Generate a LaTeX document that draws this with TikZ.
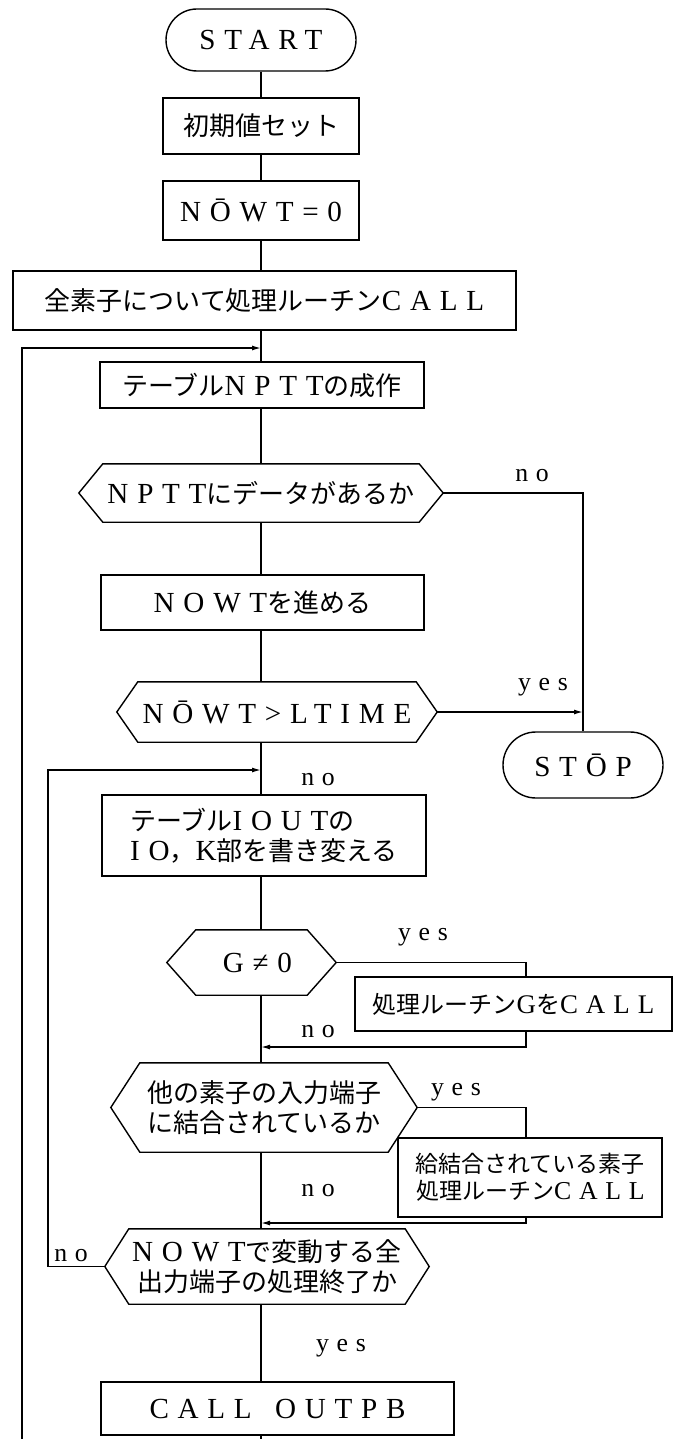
\documentclass[tikz,border=0pt]{standalone}
\usepackage{fontspec}
\setmainfont{Liberation Serif}[LetterSpace=30, Scale=1.12]
\newfontfamily\cjk{Noto Sans CJK JP}
\usetikzlibrary{arrows.meta}
\newcommand\J[1]{{\cjk #1}}
\newcommand\hexdraw[2]{\draw[ln] ([xshift=#2]#1.north west) -- ([xshift=-#2]#1.north east) -- (#1.east) -- ([xshift=-#2]#1.south east) -- ([xshift=#2]#1.south west) -- (#1.west) -- cycle;}
\begin{document}
\begin{tikzpicture}[x=1pt,y=-1pt,
  ln/.style={line width=1.4pt},
  arr/.style={ln,-{Latex[length=9pt,width=5pt]}},
  every node/.style={font=\fontsize{26}{30}\selectfont, inner sep=0pt},
  box/.style={draw, ln, rectangle},
  stad/.style={draw, ln, rectangle},
  hexa/.style={rectangle},
  lab/.style={font=\fontsize{23}{25}\selectfont}]
\useasboundingbox (0,0) rectangle (674,1439);
\coordinate (m) at (261,0);
\coordinate (rx) at (526,0);
% nodes
\node[stad, rounded corners=31pt, minimum width=190pt, minimum height=62pt] (start) at (261,40) {START};
\node[box, minimum width=196pt, minimum height=56pt] (init) at (261,126) {\J{初期値セット}};
\node[box, minimum width=196pt, minimum height=59pt] (nowt0) at (261,210.5) {NŌWT=0};
\node[box, minimum width=503pt, minimum height=59pt] (allcall) at (264.5,300.5) {\J{全素子について処理ルーチン}CALL};
\node[box, minimum width=324pt, minimum height=46pt] (nptt) at (262,385) {\J{テーブル}NPTT\J{の成作}};
\node[hexa, minimum width=364pt, minimum height=58pt] (dec1) at (261,493) {NPTT\J{にデータがあるか}};
\node[box, minimum width=323pt, minimum height=55pt] (adv) at (262.5,602.5) {NOWT\J{を進める}};
\node[hexa, minimum width=320pt, minimum height=60pt] (dec2) at (277,712) {NŌWT>LTIME};
\node[stad, rounded corners=33pt, minimum width=160pt, minimum height=66pt] (stop) at (583,765) {STŌP};
\node[box, align=left, minimum width=324pt, minimum height=81pt] (iout) at (264,835.5) {\J{テーブル}IOUT\J{の}\\IO\J{，}K\J{部を書き変える}};
\node[hexa, minimum width=169pt, minimum height=65pt] (dec3) at (251.5,962.5) {\hspace*{12pt}G≠0};
\node[box, font=\fontsize{24}{28}\selectfont, minimum width=317pt, minimum height=54pt] (gcall) at (513.5,1004) {\J{処理ルーチン}G\J{を}CALL};
\node[hexa, align=center, minimum width=306pt, minimum height=89pt] (dec4) at (264,1107.5) {\J{他の素子の入力端子}\\\J{に結合されているか}};
\node[box, align=right, font=\fontsize{23}{27}\selectfont, minimum width=264pt, minimum height=79pt] (conn) at (530,1177.5) {\J{給結合されている素子}\\\J{処理ルーチン}CALL};
\node[hexa, align=center, minimum width=324pt, minimum height=75pt] (dec5) at (267,1266.5) {NOWT\J{で変動する全}\\\J{出力端子の処理終了か}};
\node[box, minimum width=353pt, minimum height=53pt] (outpb) at (277.5,1408.5) {CALL\hspace{0.8em}OUTPB};
% hexagon outlines
\hexdraw{dec1}{24pt}
\hexdraw{dec2}{21pt}
\hexdraw{dec3}{29pt}
\hexdraw{dec4}{29pt}
\hexdraw{dec5}{24pt}
% labels
\node[lab] (no1) at (532,476) {no};
\node[lab] (yes1) at (543,687) {yes};
\node[lab] (no2) at (318,780) {no};
\node[lab] (yes2) at (423,937) {yes};
\node[lab] (no3) at (318,1032) {no};
\node[lab] (yes3) at (456,1092) {yes};
\node[lab] (no4) at (318,1191) {no};
\node[lab] (no5) at (71,1256) {no};
\node[lab] (yes4) at (341,1348) {yes};
% junction coordinates
\coordinate (j1) at (261,348);
\coordinate (j2) at (261,770);
\coordinate (j3) at (261,1047);
\coordinate (j4) at (261,1223);
\coordinate (lt) at (22,348);
\coordinate (lb) at (22,1439);
\coordinate (l2) at (48,770);
\coordinate (bot) at (261,1439);
% main flow
\draw[ln] (start) -- (init);
\draw[ln] (init) -- (nowt0);
\draw[ln] (m |- nowt0.south) -- (m |- allcall.north);
\draw[ln] (m |- allcall.south) -- (m |- nptt.north);
\draw[ln] (m |- nptt.south) -- (m |- dec1.north);
\draw[ln] (m |- dec1.south) -- (m |- adv.north);
\draw[ln] (m |- adv.south) -- (m |- dec2.north);
\draw[ln] (m |- dec2.south) -- (m |- iout.north);
\draw[ln] (m |- iout.south) -- (m |- dec3.north);
\draw[ln] (m |- dec3.south) -- (m |- dec4.north);
\draw[ln] (m |- dec4.south) -- (m |- dec5.north);
\draw[ln] (m |- dec5.south) -- (m |- outpb.north);
\draw[ln] (m |- outpb.south) -- (bot);
% branches
\draw[ln] (dec1.east) -| (stop.north);
\draw[arr] (dec2.east) -- (dec2.east -| stop.north);
\draw[ln] (dec3.east) -| (rx |- gcall.north);
\draw[arr] (rx |- gcall.south) -- (rx |- j3) -- (j3);
\draw[ln] (dec4.east) -| (rx |- conn.north);
\draw[arr] (rx |- conn.south) -- (rx |- j4) -- (j4);
\draw[arr] (dec5.west) -| (l2) -- (j2);
\draw[arr] (lb) -- (lt) -- (j1);
\end{tikzpicture}
\end{document}
